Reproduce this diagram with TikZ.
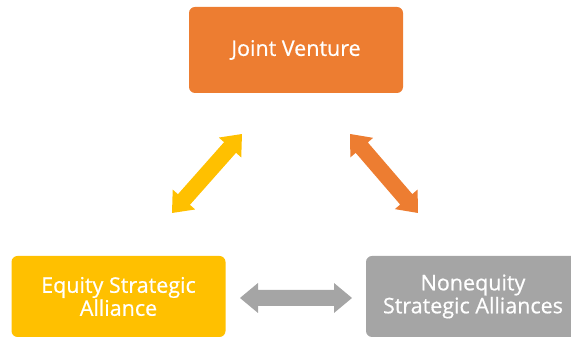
\documentclass[tikz,border=0pt]{standalone}
\usepackage{fontspec}
\setmainfont{Open Sans}[FakeBold=0.6]
\usetikzlibrary{calc}
\definecolor{jvorange}{HTML}{ED7D31}
\definecolor{esyellow}{HTML}{FFC000}
\definecolor{nsgray}{HTML}{A5A5A5}
\tikzset{
  box/.style={rounded corners=6pt, minimum width=214pt, inner sep=0pt, text=white, align=center,
    font=\fontsize{21.5}{23}\selectfont},
  blockarrow/.style={fill=#1, draw=none},
}
% double block arrow from #1 to #2 (named coordinates), colour #3
\newcommand{\dblarrow}[3]{%
  \path let \p1=(#1), \p2=(#2), \n1={veclen(\x2-\x1,\y2-\y1)}, \n2={atan2(\y2-\y1,\x2-\x1)} in
    [shift={(\p1)}, rotate=\n2, blockarrow=#3]
    (0,0) -- (18,15) -- (18,8) -- (\n1-18,8) -- (\n1-18,15) -- (\n1,0)
    -- (\n1-18,-15) -- (\n1-18,-8) -- (18,-8) -- (18,-15) -- cycle;}
\begin{document}
\begin{tikzpicture}[x=1pt,y=1pt]
\useasboundingbox (0,0) rectangle (571,339);
\node[box, fill=jvorange, minimum height=86pt] (jv) at (296,289) {Joint Venture};
\node[box, fill=esyellow, minimum height=81pt] (es) at (118.5,42.5) {Equity Strategic\\Alliance};
\node[box, fill=nsgray, minimum height=81pt] (ns) at (473,42.5) {Nonequity\\Strategic Alliances};
\coordinate (ya) at (172,126);
\coordinate (yb) at (242,205);
\coordinate (oa) at (350,205);
\coordinate (ob) at (418,126);
\coordinate (ga) at (240,41);
\coordinate (gb) at (352,41);
\dblarrow{ya}{yb}{esyellow}
\dblarrow{oa}{ob}{jvorange}
\dblarrow{ga}{gb}{nsgray}
\end{tikzpicture}
\end{document}
